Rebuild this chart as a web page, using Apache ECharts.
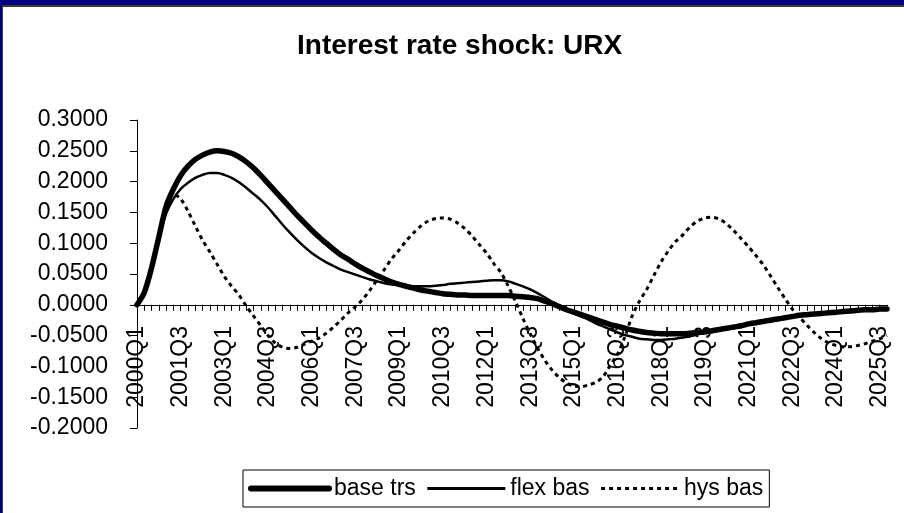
<!DOCTYPE html>
<html>
<head>
<meta charset="utf-8">
<title>Interest rate shock: URX</title>
<script src="https://cdn.jsdelivr.net/npm/echarts@6/dist/echarts.min.js"></script>
<style>
  html, body { margin: 0; padding: 0; background: #fff; }
  #container { position: relative; width: 904px; height: 513px; overflow: hidden; }
  #mix-container { position: absolute; left: 0; top: 0; width: 904px; height: 513px; }
  /* frame of the original screenshot */
  .edge { position: absolute; pointer-events: none; }
  #blue-top { left: 0; top: 0; width: 904px; height: 5px; background: #000080; }
  #blue-left { left: 0; top: 0; width: 2px; height: 513px; background: #000080; }
  #grey-top { left: 2px; top: 5px; width: 902px; height: 2px; background: #3c3c3c; }
  #grey-left { left: 2px; top: 5px; width: 1px; height: 508px; background: #3c3c3c; }
</style>
</head>
<body>
<div id="container">
  <div id="mix-container"></div>
  <div class="edge" id="blue-top"></div>
  <div class="edge" id="blue-left"></div>
  <div class="edge" id="grey-top"></div>
  <div class="edge" id="grey-left"></div>
</div>
<script>
// quarters 2000Q1 .. 2025Q4
const quarters = [];
for (let y = 2000; y <= 2025; y++) {
  for (let q = 1; q <= 4; q++) quarters.push(y + "Q" + q);
}

const seriesNames = ["base trs", "flex bas", "hys bas"];

const baseTrs = [
  0, 0.02, 0.06, 0.11, 0.16, 0.188, 0.21, 0.225, 0.236, 0.243,
  0.248, 0.25, 0.249, 0.246, 0.24, 0.232, 0.222, 0.21, 0.197, 0.184,
  0.171, 0.158, 0.145, 0.133, 0.121, 0.11, 0.1, 0.09, 0.081, 0.074,
  0.066, 0.059, 0.053, 0.047, 0.042, 0.037, 0.033, 0.03, 0.027, 0.024,
  0.022, 0.02, 0.018, 0.017, 0.016, 0.016, 0.015, 0.015, 0.015, 0.015,
  0.015, 0.015, 0.014, 0.013, 0.012, 0.01, 0.006, 0.002, -0.003, -0.008,
  -0.012, -0.016, -0.02, -0.024, -0.028, -0.032, -0.035, -0.038, -0.041, -0.043,
  -0.045, -0.046, -0.047, -0.047, -0.047, -0.047, -0.046, -0.045, -0.044, -0.042,
  -0.04, -0.038, -0.036, -0.034, -0.031, -0.029, -0.027, -0.025, -0.023, -0.021,
  -0.019, -0.017, -0.016, -0.015, -0.014, -0.013, -0.012, -0.011, -0.01, -0.009,
  -0.008, -0.008, -0.007, -0.007
];

const flexBas = [
  0, 0.02, 0.06, 0.108, 0.148, 0.172, 0.188, 0.198, 0.206, 0.211,
  0.214, 0.214, 0.211, 0.206, 0.199, 0.19, 0.18, 0.17, 0.158, 0.144,
  0.13, 0.117, 0.105, 0.094, 0.084, 0.076, 0.069, 0.063, 0.057, 0.053,
  0.049, 0.045, 0.041, 0.038, 0.035, 0.033, 0.032, 0.031, 0.03, 0.03,
  0.03, 0.031, 0.032, 0.034, 0.035, 0.036, 0.037, 0.038, 0.039, 0.04,
  0.04, 0.038, 0.034, 0.03, 0.025, 0.019, 0.012, 0.005, -0.002, -0.008,
  -0.014, -0.019, -0.024, -0.03, -0.035, -0.04, -0.045, -0.049, -0.052, -0.055,
  -0.056, -0.057, -0.057, -0.056, -0.055, -0.053, -0.051, -0.048, -0.045, -0.042,
  -0.04, -0.038, -0.036, -0.034, -0.031, -0.029, -0.027, -0.025, -0.023, -0.021,
  -0.019, -0.017, -0.016, -0.015, -0.014, -0.013, -0.012, -0.011, -0.01, -0.009,
  -0.008, -0.008, -0.007, -0.007
];

const hysBas = [
  0, 0.02, 0.06, 0.11, 0.155, 0.18, 0.172, 0.152, 0.128, 0.105,
  0.086, 0.066, 0.046, 0.03, 0.016, -0.002, -0.018, -0.034, -0.05, -0.062,
  -0.069, -0.071, -0.069, -0.064, -0.059, -0.054, -0.046, -0.036, -0.025, -0.013,
  -0.003, 0.009, 0.024, 0.041, 0.058, 0.075, 0.089, 0.104, 0.117, 0.128,
  0.136, 0.14, 0.141, 0.139, 0.133, 0.124, 0.112, 0.098, 0.084, 0.067,
  0.052, 0.03, 0.005, -0.022, -0.047, -0.07, -0.09, -0.106, -0.118, -0.127,
  -0.132, -0.133, -0.13, -0.126, -0.117, -0.098, -0.08, -0.052, -0.018, 0.006,
  0.025, 0.048, 0.07, 0.088, 0.103, 0.114, 0.127, 0.136, 0.141, 0.142,
  0.139, 0.131, 0.12, 0.107, 0.094, 0.08, 0.065, 0.047, 0.028, 0.01,
  -0.007, -0.02, -0.033, -0.045, -0.055, -0.062, -0.066, -0.068, -0.068, -0.066,
  -0.063, -0.059, -0.055, -0.05
];

const yMin = -0.2;
const yMax = 0.3;
const yStep = 0.05;

const fontFam = "'Liberation Sans', Arial, sans-serif";

const myOption = {
  animation: false,
  backgroundColor: "#fff",
  title: {
    text: "Interest rate shock: URX",
    left: 292,
    top: 27,
    textStyle: {
      fontFamily: fontFam,
      fontSize: 28,
      fontWeight: "bold",
      color: "#000",
    },
  },
  legend: {
    data: [
      { name: seriesNames[0], lineStyle: { width: 6 } },
      { name: seriesNames[1], lineStyle: { width: 3 } },
      { name: seriesNames[2], lineStyle: { width: 3 } },
    ],
    left: 243,
    top: 470,
    itemWidth: 78,
    itemHeight: 12,
    itemGap: 10,
    padding: [7, 6, 7, 5],
    borderColor: "#000",
    borderWidth: 1,
    itemStyle: { opacity: 0 },
    textStyle: { fontFamily: fontFam, fontSize: 23, color: "#000" },
  },
  grid: {
    left: 137,
    right: 17,
    top: 120,
    bottom: 85,
    outerBoundsMode: "none",
  },
  xAxis: [
    {
      // labels only, pulled up to sit under the zero line
      type: "category",
      data: quarters,
      boundaryGap: false,
      position: "bottom",
      axisLine: { show: false, onZero: false },
      axisTick: { show: false },
      axisLabel: {
        interval: 5,
        rotate: 90,
        margin: -102,
        fontFamily: fontFam,
        fontSize: 23,
        color: "#000",
      },
    },
    {
      // line and quarterly ticks on the zero line
      type: "category",
      data: quarters,
      boundaryGap: false,
      position: "bottom",
      axisLine: { onZero: true, lineStyle: { color: "#000", width: 1 } },
      axisTick: { interval: 0, length: 6, lineStyle: { color: "#000" } },
      axisLabel: { show: false },
    },
  ],
  yAxis: {
    type: "value",
    min: yMin,
    max: yMax,
    interval: yStep,
    splitLine: { show: false },
    axisLine: { show: true, lineStyle: { color: "#000", width: 1 } },
    axisTick: { show: true, length: 7, lineStyle: { color: "#000" } },
    axisLabel: {
      margin: 29,
      fontFamily: fontFam,
      fontSize: 23,
      color: "#000",
      formatter: (v) => v.toFixed(4),
    },
  },
  series: [
    {
      name: seriesNames[0],
      type: "line",
      data: baseTrs,
      symbol: "none",
      smooth: 0.3,
      lineStyle: { color: "#000", width: 5.5, cap: "round" },
      itemStyle: { color: "#000" },
    },
    {
      name: seriesNames[1],
      type: "line",
      data: flexBas,
      symbol: "none",
      smooth: 0.3,
      lineStyle: { color: "#000", width: 2.5 },
      itemStyle: { color: "#000" },
    },
    {
      name: seriesNames[2],
      type: "line",
      data: hysBas,
      symbol: "none",
      smooth: 0.3,
      lineStyle: { color: "#000", width: 3, type: [4, 4] },
      itemStyle: { color: "#000" },
    },
  ],
};

const ele = document.getElementById("mix-container");
const charts = echarts.init(ele);
charts.setOption(myOption);
</script>
</body>
</html>
